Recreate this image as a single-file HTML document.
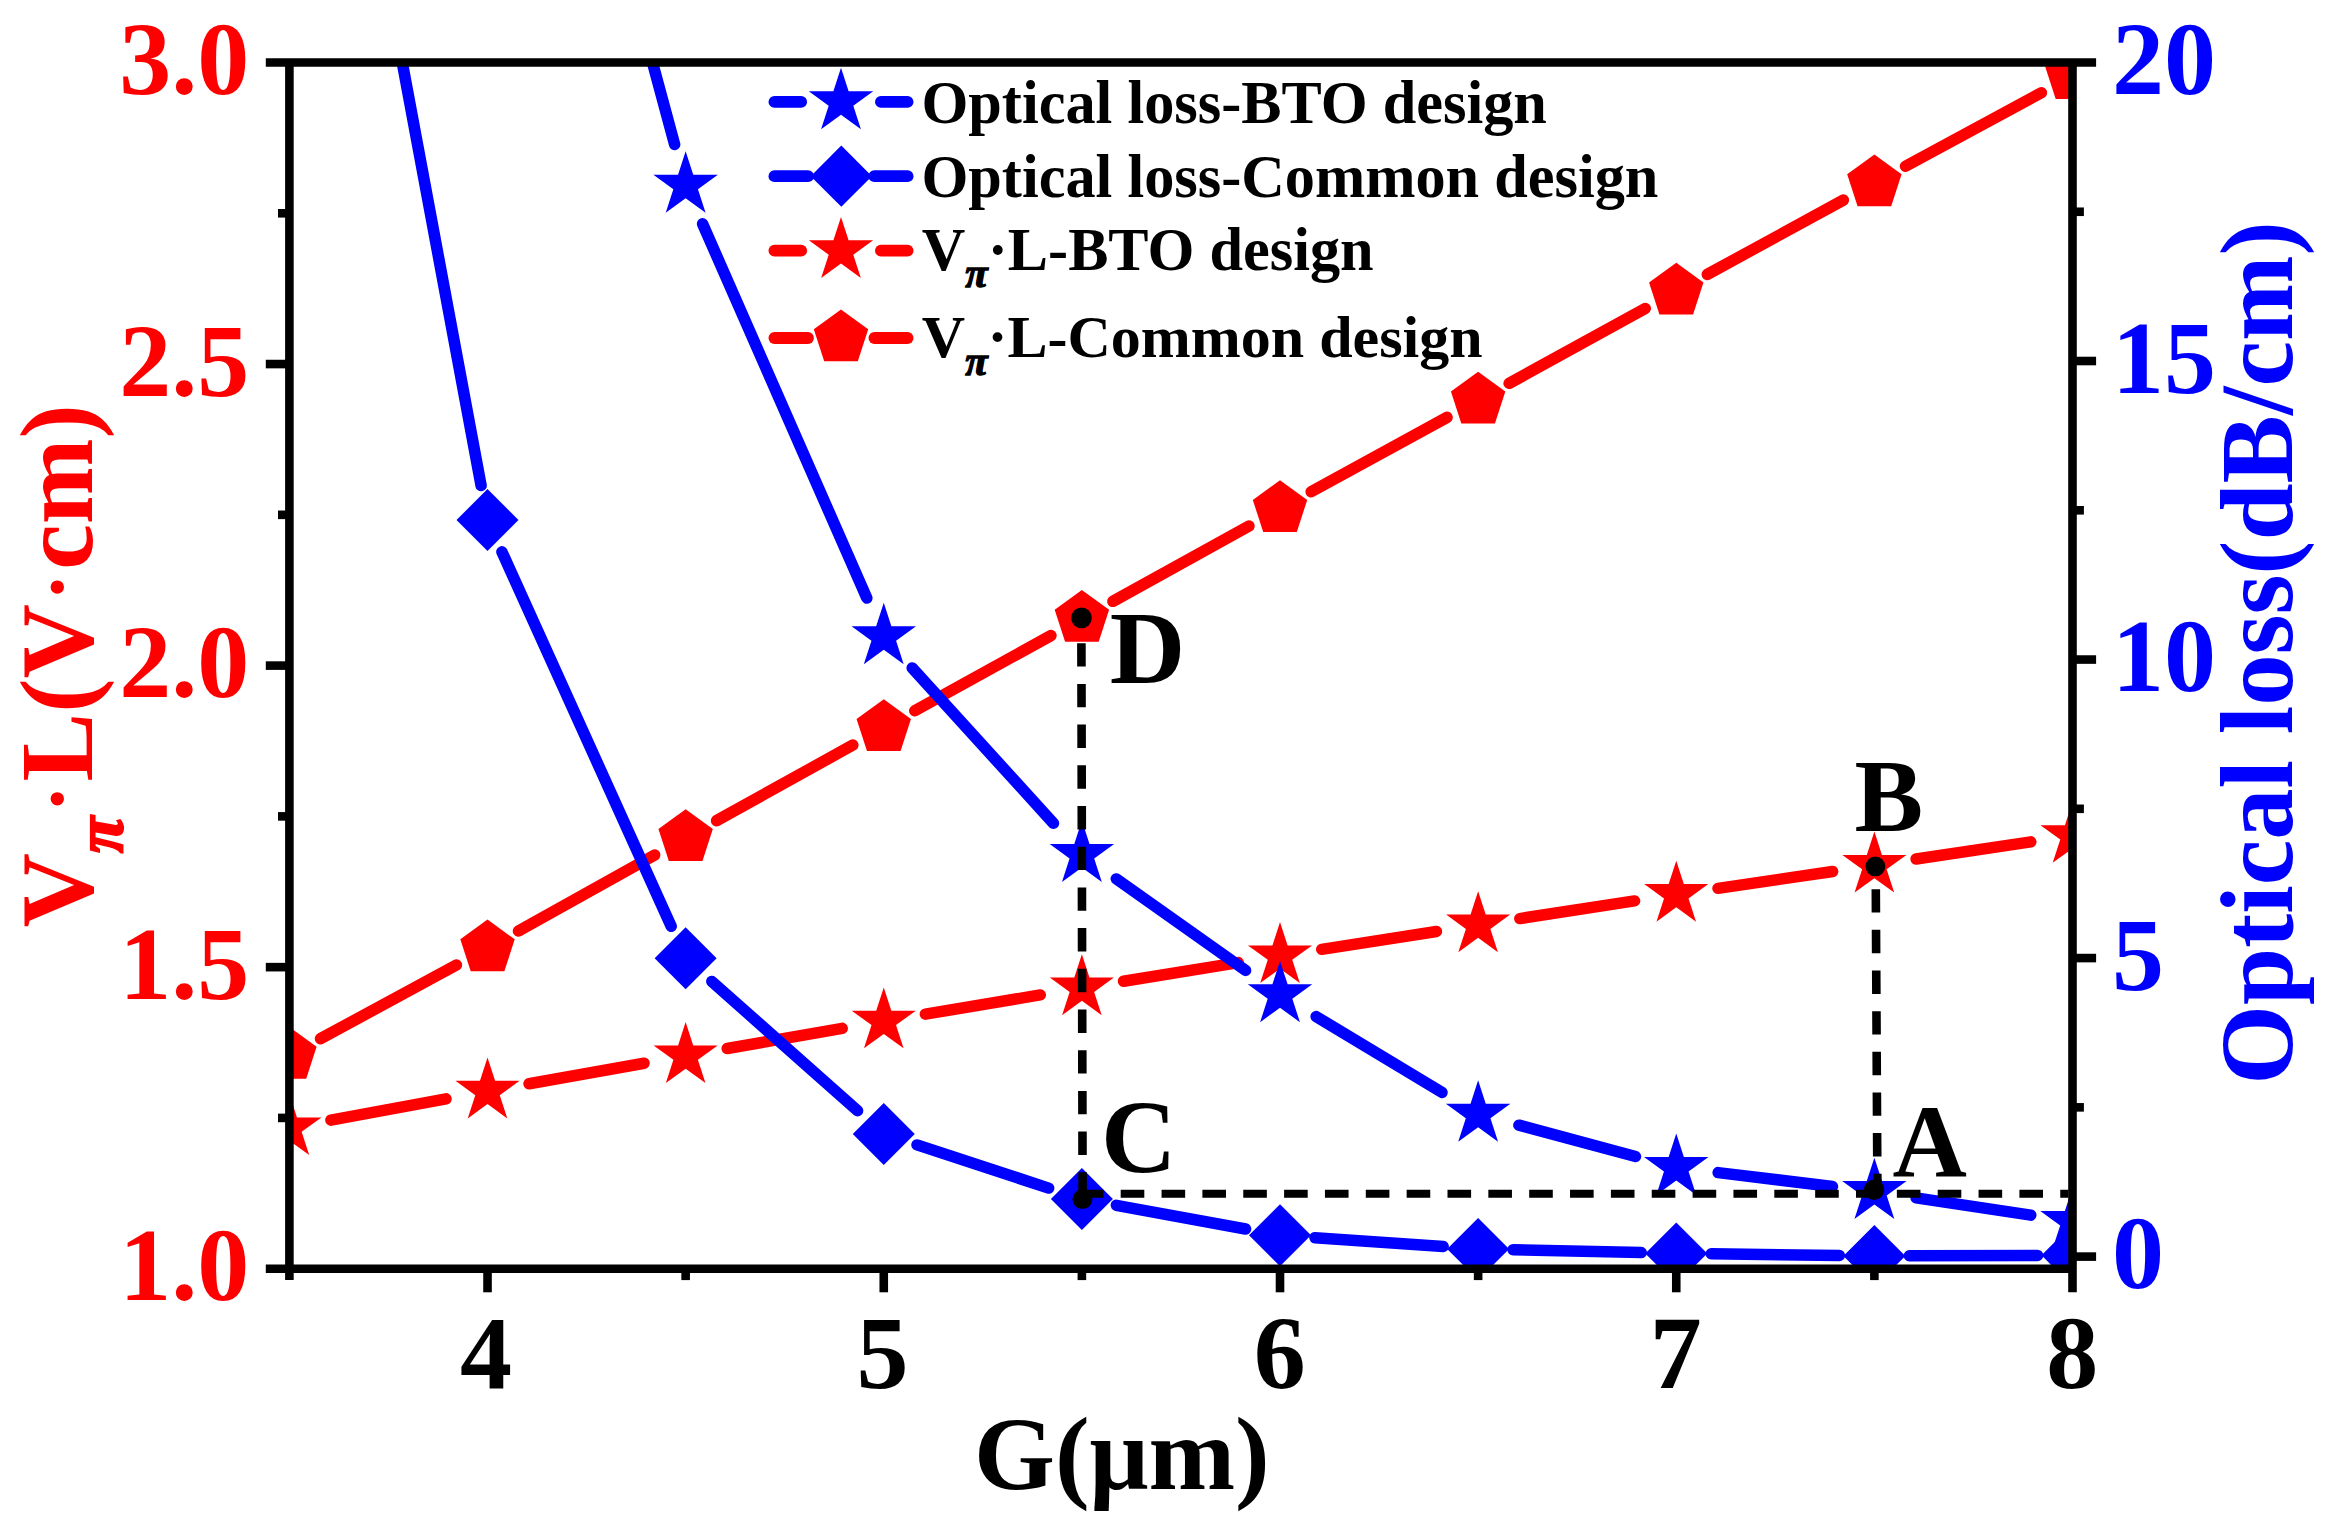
<!DOCTYPE html>
<html lang="en"><head><meta charset="utf-8"><title>Figure</title>
<style>html,body{margin:0;padding:0;background:#fff}svg{display:block}text{font-family:'Liberation Serif','Times New Roman',Times,serif;font-weight:bold}</style></head><body>
<svg width="2342" height="1528" viewBox="0 0 2342 1528">
<rect width="2342" height="1528" fill="#fff"/>
<defs><clipPath id="plot"><rect x="289.4" y="62.5" width="1783.1" height="1206.2"/></clipPath></defs>
<g clip-path="url(#plot)">
<g stroke="#ff0000" stroke-width="11.5" stroke-linecap="round" fill="none"><line x1="320.53" y1="1038.64" x2="456.39" y2="965.06"/><line x1="518.45" y1="930.97" x2="654.72" y2="855.03"/><line x1="716.6" y1="820.63" x2="852.81" y2="745.07"/><line x1="914.76" y1="710.79" x2="1050.9" y2="635.61"/><line x1="1112.86" y1="601.35" x2="1249.04" y2="525.95"/><line x1="1311.07" y1="491.81" x2="1447.08" y2="417.39"/><line x1="1509.15" y1="383.34" x2="1645.24" y2="308.46"/><line x1="1707.32" y1="274.42" x2="1843.32" y2="200.08"/><line x1="1905.51" y1="166.25" x2="2041.37" y2="92.75"/></g>
<polygon points="289.4,1026.9 316.6,1046.66 306.21,1078.64 272.59,1078.64 262.2,1046.66" fill="#ff0000"/>
<polygon points="487.52,919.6 514.72,939.36 504.33,971.34 470.71,971.34 460.32,939.36" fill="#ff0000"/>
<polygon points="685.64,809.2 712.84,828.96 702.46,860.94 668.83,860.94 658.44,828.96" fill="#ff0000"/>
<polygon points="883.77,699.3 910.97,719.06 900.58,751.04 866.96,751.04 856.57,719.06" fill="#ff0000"/>
<polygon points="1081.89,589.9 1109.09,609.66 1098.7,641.64 1065.08,641.64 1054.69,609.66" fill="#ff0000"/>
<polygon points="1280.01,480.2 1307.21,499.96 1296.82,531.94 1263.2,531.94 1252.81,499.96" fill="#ff0000"/>
<polygon points="1478.13,371.8 1505.33,391.56 1494.94,423.54 1461.32,423.54 1450.93,391.56" fill="#ff0000"/>
<polygon points="1676.26,262.8 1703.46,282.56 1693.07,314.54 1659.44,314.54 1649.06,282.56" fill="#ff0000"/>
<polygon points="1874.38,154.5 1901.58,174.26 1891.19,206.24 1857.57,206.24 1847.18,174.26" fill="#ff0000"/>
<polygon points="2072.5,47.3 2099.7,67.06 2089.31,99.04 2055.69,99.04 2045.3,67.06" fill="#ff0000"/>
<g stroke="#ff0000" stroke-width="11.5" stroke-linecap="round" fill="none"><line x1="330.9" y1="1120.13" x2="446.02" y2="1098.87"/><line x1="529.06" y1="1083.78" x2="644.1" y2="1063.22"/><line x1="727.21" y1="1048.52" x2="842.2" y2="1028.38"/><line x1="925.39" y1="1014.15" x2="1040.27" y2="994.95"/><line x1="1123.54" y1="981.23" x2="1238.36" y2="962.57"/><line x1="1321.71" y1="949.32" x2="1436.43" y2="931.48"/><line x1="1519.84" y1="918.58" x2="1634.55" y2="900.92"/><line x1="1718" y1="888.35" x2="1832.63" y2="871.45"/><line x1="1916.11" y1="859.04" x2="2030.77" y2="841.86"/></g>
<polygon points="289.4,1094.1 296.97,1117.39 321.45,1117.39 301.64,1131.78 309.21,1155.06 289.4,1140.67 269.59,1155.06 277.16,1131.78 257.35,1117.39 281.83,1117.39" fill="#ff0000"/>
<polygon points="487.52,1057.5 495.09,1080.79 519.57,1080.79 499.76,1095.18 507.33,1118.46 487.52,1104.07 467.71,1118.46 475.28,1095.18 455.47,1080.79 479.96,1080.79" fill="#ff0000"/>
<polygon points="685.64,1022.1 693.21,1045.39 717.7,1045.39 697.89,1059.78 705.45,1083.06 685.64,1068.67 665.84,1083.06 673.4,1059.78 653.59,1045.39 678.08,1045.39" fill="#ff0000"/>
<polygon points="883.77,987.4 891.33,1010.69 915.82,1010.69 896.01,1025.08 903.58,1048.36 883.77,1033.97 863.96,1048.36 871.52,1025.08 851.72,1010.69 876.2,1010.69" fill="#ff0000"/>
<polygon points="1081.89,954.3 1089.46,977.59 1113.94,977.59 1094.13,991.98 1101.7,1015.26 1081.89,1000.87 1062.08,1015.26 1069.65,991.98 1049.84,977.59 1074.32,977.59" fill="#ff0000"/>
<polygon points="1280.01,922.1 1287.58,945.39 1312.06,945.39 1292.25,959.78 1299.82,983.06 1280.01,968.67 1260.2,983.06 1267.77,959.78 1247.96,945.39 1272.44,945.39" fill="#ff0000"/>
<polygon points="1478.13,891.3 1485.7,914.59 1510.18,914.59 1490.38,928.98 1497.94,952.26 1478.13,937.87 1458.32,952.26 1465.89,928.98 1446.08,914.59 1470.57,914.59" fill="#ff0000"/>
<polygon points="1676.26,860.8 1683.82,884.09 1708.31,884.09 1688.5,898.48 1696.06,921.76 1676.26,907.37 1656.45,921.76 1664.01,898.48 1644.2,884.09 1668.69,884.09" fill="#ff0000"/>
<polygon points="1874.38,831.6 1881.94,854.89 1906.43,854.89 1886.62,869.28 1894.19,892.56 1874.38,878.17 1854.57,892.56 1862.14,869.28 1842.33,854.89 1866.81,854.89" fill="#ff0000"/>
<polygon points="2072.5,801.9 2080.07,825.19 2104.55,825.19 2084.74,839.58 2092.31,862.86 2072.5,848.47 2052.69,862.86 2060.26,839.58 2040.45,825.19 2064.93,825.19" fill="#ff0000"/>
<g stroke="#0000ff" stroke-width="11.5" stroke-linecap="round" fill="none"><line x1="295.81" y1="-508.59" x2="481.11" y2="485.59"/><line x1="501.94" y1="551.89" x2="671.23" y2="926.31"/><line x1="711.82" y1="981.43" x2="857.59" y2="1110.77"/><line x1="917.02" y1="1144.91" x2="1048.63" y2="1188.09"/><line x1="1116.32" y1="1205.31" x2="1245.58" y2="1228.99"/><line x1="1314.93" y1="1237.7" x2="1443.22" y2="1246.5"/><line x1="1513.12" y1="1249.69" x2="1641.26" y2="1252.61"/><line x1="1711.25" y1="1253.84" x2="1839.38" y2="1255.46"/><line x1="1909.38" y1="1255.79" x2="2037.5" y2="1255.41"/></g>
<polygon points="289.4,-574 320.4,-543 289.4,-512 258.4,-543" fill="#0000ff"/>
<polygon points="487.52,489 518.52,520 487.52,551 456.52,520" fill="#0000ff"/>
<polygon points="685.64,927.2 716.64,958.2 685.64,989.2 654.64,958.2" fill="#0000ff"/>
<polygon points="883.77,1103 914.77,1134 883.77,1165 852.77,1134" fill="#0000ff"/>
<polygon points="1081.89,1168 1112.89,1199 1081.89,1230 1050.89,1199" fill="#0000ff"/>
<polygon points="1280.01,1204.3 1311.01,1235.3 1280.01,1266.3 1249.01,1235.3" fill="#0000ff"/>
<polygon points="1478.13,1217.9 1509.13,1248.9 1478.13,1279.9 1447.13,1248.9" fill="#0000ff"/>
<polygon points="1676.26,1222.4 1707.26,1253.4 1676.26,1284.4 1645.26,1253.4" fill="#0000ff"/>
<polygon points="1874.38,1224.9 1905.38,1255.9 1874.38,1286.9 1843.38,1255.9" fill="#0000ff"/>
<polygon points="2072.5,1224.3 2103.5,1255.3 2072.5,1286.3 2041.5,1255.3" fill="#0000ff"/>
<g stroke="#0000ff" stroke-width="11.5" stroke-linecap="round" fill="none"><line x1="498.53" y1="-507.26" x2="674.64" y2="144.46"/><line x1="702.6" y1="223.84" x2="866.81" y2="598.06"/><line x1="912.16" y1="667.92" x2="1053.49" y2="823.28"/><line x1="1116.33" y1="878.89" x2="1245.57" y2="970.41"/><line x1="1316.15" y1="1016.58" x2="1441.99" y2="1092.42"/><line x1="1518.88" y1="1125.16" x2="1635.5" y2="1156.54"/><line x1="1718.15" y1="1172.6" x2="1832.49" y2="1186.5"/><line x1="1916.11" y1="1197.88" x2="2030.77" y2="1215.12"/></g>
<polygon points="487.52,-581.9 495.13,-558.48 519.76,-558.48 499.84,-544 507.45,-520.57 487.52,-535.05 467.6,-520.57 475.21,-544 455.28,-558.48 479.91,-558.48" fill="#0000ff"/>
<polygon points="685.64,151.3 693.26,174.72 717.89,174.72 697.96,189.2 705.57,212.63 685.64,198.15 665.72,212.63 673.33,189.2 653.4,174.72 678.03,174.72" fill="#0000ff"/>
<polygon points="883.77,602.8 891.38,626.22 916.01,626.22 896.08,640.7 903.69,664.13 883.77,649.65 863.84,664.13 871.45,640.7 851.53,626.22 876.16,626.22" fill="#0000ff"/>
<polygon points="1081.89,820.6 1089.5,844.02 1114.13,844.02 1094.2,858.5 1101.81,881.93 1081.89,867.45 1061.96,881.93 1069.57,858.5 1049.65,844.02 1074.28,844.02" fill="#0000ff"/>
<polygon points="1280.01,960.9 1287.62,984.32 1312.25,984.32 1292.33,998.8 1299.94,1022.23 1280.01,1007.75 1260.09,1022.23 1267.7,998.8 1247.77,984.32 1272.4,984.32" fill="#0000ff"/>
<polygon points="1478.13,1080.3 1485.74,1103.72 1510.37,1103.72 1490.45,1118.2 1498.06,1141.63 1478.13,1127.15 1458.21,1141.63 1465.82,1118.2 1445.89,1103.72 1470.52,1103.72" fill="#0000ff"/>
<polygon points="1676.26,1133.6 1683.87,1157.02 1708.5,1157.02 1688.57,1171.5 1696.18,1194.93 1676.26,1180.45 1656.33,1194.93 1663.94,1171.5 1644.01,1157.02 1668.64,1157.02" fill="#0000ff"/>
<polygon points="1874.38,1157.7 1881.99,1181.12 1906.62,1181.12 1886.69,1195.6 1894.3,1219.03 1874.38,1204.55 1854.45,1219.03 1862.06,1195.6 1842.14,1181.12 1866.77,1181.12" fill="#0000ff"/>
<polygon points="2072.5,1187.5 2080.11,1210.92 2104.74,1210.92 2084.81,1225.4 2092.43,1248.83 2072.5,1234.35 2052.57,1248.83 2060.19,1225.4 2040.26,1210.92 2064.89,1210.92" fill="#0000ff"/>
</g>
<g stroke="#000" stroke-width="8.6" fill="none">
<line x1="1081.4" y1="643.2" x2="1082.6" y2="1199" stroke-dasharray="23.4 17.3"/>
<line x1="1875.8" y1="889.2" x2="1877.4" y2="1190" stroke-dasharray="23.4 17.25"/>
<line x1="1079.85" y1="1193.8" x2="2068.5" y2="1193.8" stroke-width="8.1" stroke-dasharray="23.6 17.25"/>
</g>
<circle cx="1081.5" cy="617.9" r="10.3"/><circle cx="1082.4" cy="1199.2" r="9.9"/>
<circle cx="1875.4" cy="866.4" r="9.9"/><circle cx="1874.1" cy="1189.7" r="10.2"/>
<g stroke="#000" stroke-width="8.6" fill="none">
<line x1="265.8" y1="62.5" x2="2096.1" y2="62.5"/>
<line x1="265.8" y1="1268.7" x2="2072.5" y2="1268.7"/>
<line x1="289.4" y1="62.5" x2="289.4" y2="1280.1"/>
<line x1="2072.5" y1="62.5" x2="2072.5" y2="1292.3"/>
<line x1="265.8" y1="967.15" x2="289.4" y2="967.15"/>
<line x1="265.8" y1="665.6" x2="289.4" y2="665.6"/>
<line x1="265.8" y1="364.05" x2="289.4" y2="364.05"/>
<line x1="278" y1="1117.92" x2="289.4" y2="1117.92"/>
<line x1="278" y1="816.38" x2="289.4" y2="816.38"/>
<line x1="278" y1="514.83" x2="289.4" y2="514.83"/>
<line x1="278" y1="213.28" x2="289.4" y2="213.28"/>
<line x1="2072.5" y1="1256.6" x2="2096.1" y2="1256.6"/>
<line x1="2072.5" y1="958.07" x2="2096.1" y2="958.07"/>
<line x1="2072.5" y1="659.55" x2="2096.1" y2="659.55"/>
<line x1="2072.5" y1="361.02" x2="2096.1" y2="361.02"/>
<line x1="2072.5" y1="1107.34" x2="2083.9" y2="1107.34"/>
<line x1="2072.5" y1="808.81" x2="2083.9" y2="808.81"/>
<line x1="2072.5" y1="510.29" x2="2083.9" y2="510.29"/>
<line x1="2072.5" y1="211.76" x2="2083.9" y2="211.76"/>
<line x1="487.52" y1="1268.7" x2="487.52" y2="1292.3"/>
<line x1="883.77" y1="1268.7" x2="883.77" y2="1292.3"/>
<line x1="1280.01" y1="1268.7" x2="1280.01" y2="1292.3"/>
<line x1="1676.26" y1="1268.7" x2="1676.26" y2="1292.3"/>
<line x1="685.64" y1="1268.7" x2="685.64" y2="1280.1"/>
<line x1="1081.89" y1="1268.7" x2="1081.89" y2="1280.1"/>
<line x1="1478.13" y1="1268.7" x2="1478.13" y2="1280.1"/>
<line x1="1874.38" y1="1268.7" x2="1874.38" y2="1280.1"/>
</g>
<g font-size="104" fill="#ff0000" text-anchor="end">
<text x="249.3" y="94">3.0</text>
<text x="249.3" y="395.55">2.5</text>
<text x="249.3" y="697.1">2.0</text>
<text x="249.3" y="998.65">1.5</text>
<text x="249.3" y="1300.2">1.0</text>
</g>
<g font-size="104" fill="#0000ff">
<text x="2112" y="94">20</text>
<text x="2112" y="392.52">15</text>
<text x="2112" y="691.05">10</text>
<text x="2112" y="989.57">5</text>
<text x="2112" y="1288.1">0</text>
</g>
<g font-size="104" fill="#000" text-anchor="middle">
<text x="486.02" y="1388">4</text>
<text x="882.47" y="1388">5</text>
<text x="1279.71" y="1388">6</text>
<text x="1675.66" y="1388">7</text>
<text x="2072.3" y="1388">8</text>
</g>
<text x="974" y="1489" font-size="104">G(μm)</text>
<text transform="translate(92.3 927.4) rotate(-90) scale(0.99 1)" font-size="104" fill="#ff0000">V<tspan font-size="67" font-style="italic" dy="29.4" stroke="#ff0000" stroke-width="2.2">π</tspan><tspan dy="-36.4" dx="4.5" font-size="83">·</tspan><tspan dy="7" dx="3.5">L(V</tspan><tspan dy="-7" dx="3.5" font-size="83">·</tspan><tspan dy="7" dx="3.5">cm)</tspan></text>
<text transform="translate(2291.7 1084.8) rotate(-90) scale(0.9865 1)" font-size="104" fill="#0000ff">Optical loss(dB/cm)</text>
<g font-size="103" fill="#000">
<text x="1892.5" y="1177.2">A</text><text x="1854.5" y="831.1">B</text>
<text x="1101" y="1171.7" font-size="104.5">C</text><text x="1109.8" y="683" font-size="104.5">D</text>
</g>
<g stroke="#0000ff" stroke-width="11.8" stroke-linecap="round"><line x1="774.4" y1="101.9" x2="801.2" y2="101.9"/><line x1="880.9" y1="101.9" x2="907.6" y2="101.9"/></g>
<polygon points="841,67.85 848.61,91.27 873.24,91.27 853.31,105.75 860.93,129.18 841,114.7 821.07,129.18 828.69,105.75 808.76,91.27 833.39,91.27" fill="#0000ff"/>
<g stroke="#0000ff" stroke-width="11.8" stroke-linecap="round"><line x1="774.4" y1="176.2" x2="808.1" y2="176.2"/><line x1="874.3" y1="176.2" x2="907.6" y2="176.2"/></g>
<polygon points="841.3,145.6 871.9,176.2 841.3,206.8 810.7,176.2" fill="#0000ff"/>
<g stroke="#ff0000" stroke-width="11.8" stroke-linecap="round"><line x1="774.4" y1="250.7" x2="801.2" y2="250.7"/><line x1="880.9" y1="250.7" x2="907.6" y2="250.7"/></g>
<polygon points="841,216.9 848.59,240.26 873.15,240.26 853.28,254.69 860.87,278.04 841,263.61 821.13,278.04 828.72,254.69 808.85,240.26 833.41,240.26" fill="#ff0000"/>
<g stroke="#ff0000" stroke-width="11.8" stroke-linecap="round"><line x1="774.4" y1="338" x2="808" y2="338"/><line x1="874.4" y1="338" x2="907.6" y2="338"/></g>
<polygon points="841,309.4 868.2,329.16 857.81,361.14 824.19,361.14 813.8,329.16" fill="#ff0000"/>
<g font-size="60.3" fill="#000">
<text x="921.4" y="122.5">Optical loss-BTO design</text>
<text x="921.4" y="196.6">Optical loss-Common design</text>
<text x="921.8" y="269.5">V<tspan font-size="41" font-style="italic" dy="17.5" stroke="#000" stroke-width="1.3">π</tspan><tspan dy="-17.5">·L-BTO design</tspan></text>
<text x="921.8" y="357" font-size="60">V<tspan font-size="41" font-style="italic" dy="17.5" stroke="#000" stroke-width="1.3">π</tspan><tspan dy="-17.5">·L-Common design</tspan></text>
</g>
</svg></body></html>
